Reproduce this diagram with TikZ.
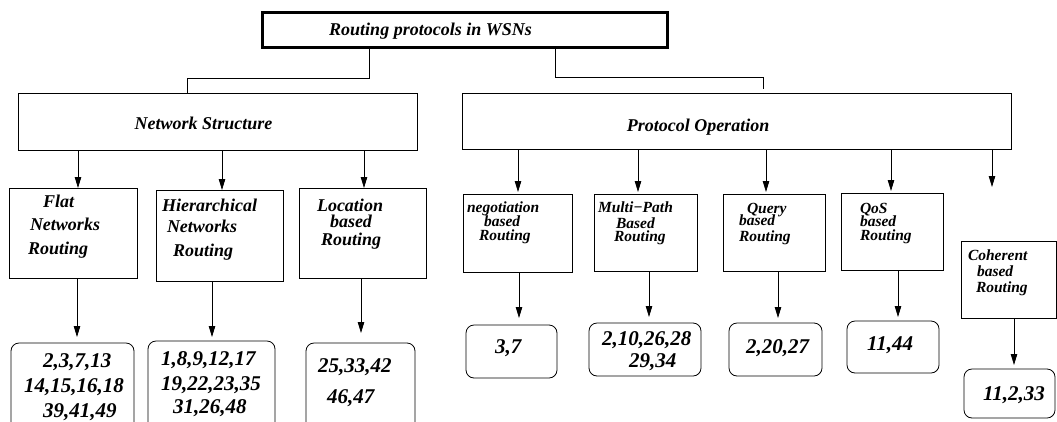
\documentclass[tikz,border=0pt]{standalone}
\usepackage{fontspec}
\setmainfont{Liberation Serif}
\usetikzlibrary{arrows.meta}
\newcommand{\myfbig}{\bfseries\itshape\fontsize{18}{20}\selectfont}
\newcommand{\myfmid}{\bfseries\itshape\fontsize{18}{20}\selectfont}
\newcommand{\myfsml}{\bfseries\itshape\fontsize{15.5}{17}\selectfont}
\newcommand{\myfnum}{\bfseries\itshape\fontsize{21}{23}\selectfont}
\tikzset{
  box/.style={draw, line width=0.8pt, inner sep=0pt, outer sep=0pt},
  numbox/.style={box, rounded corners=8pt},
  rootbox/.style={draw, line width=3pt, inner sep=0pt, outer sep=0pt},
  conn/.style={line width=0.8pt},
  arr/.style={line width=0.8pt, -{Triangle[length=11pt,width=6.5pt]}},
  ctext/.style={anchor=base, inner sep=0pt, outer sep=0pt},
  ltext/.style={anchor=base west, inner sep=0pt, outer sep=0pt},
}
\begin{document}
\begin{tikzpicture}[x=1pt,y=-1pt]
\useasboundingbox (0,0) rectangle (1057,421);
\clip (0,0) rectangle (1057,421);

% boxes
\node[rootbox, minimum width=405pt, minimum height=35pt] (root) at (464.5,30) {};
\node[box, minimum width=399pt, minimum height=57pt] (ns) at (217.5,121.5) {};
\node[box, minimum width=549pt, minimum height=56pt] (po) at (736.5,121) {};

\node[box, minimum width=128pt, minimum height=90pt] (flat) at (73,233) {};
\node[box, minimum width=127pt, minimum height=91pt] (hier) at (219.5,235.5) {};
\node[box, minimum width=127pt, minimum height=90pt] (loc) at (362.5,233) {};
\node[box, minimum width=109pt, minimum height=78pt] (neg) at (517.5,233) {};
\node[box, minimum width=103pt, minimum height=77pt] (multi) at (645.5,232.5) {};
\node[box, minimum width=102pt, minimum height=77pt] (query) at (774,232.5) {};
\node[box, minimum width=102pt, minimum height=77pt] (qos) at (892,231.5) {};
\node[box, minimum width=95pt, minimum height=77pt] (coh) at (1008.5,279.5) {};

\node[numbox, minimum width=123pt, minimum height=97pt] (nflat) at (72.5,391.5) {};
\node[numbox, minimum width=127pt, minimum height=99pt] (nhier) at (211.5,390.5) {};
\node[numbox, minimum width=109pt, minimum height=97pt] (nloc) at (360.5,391.5) {};
\node[numbox, minimum width=91pt, minimum height=53pt] (nneg) at (511.5,351.5) {};
\node[numbox, minimum width=112pt, minimum height=53pt] (nmulti) at (645,349.5) {};
\node[numbox, minimum width=93pt, minimum height=53pt] (nquery) at (775.5,349.5) {};
\node[numbox, minimum width=92pt, minimum height=52pt] (nqos) at (893,347) {};
\node[numbox, minimum width=91pt, minimum height=49pt] (ncoh) at (1009.5,393.5) {};

% texts
\node[ctext, font=\myfbig] (ttitle) at (430.5,35.5) {Routing protocols in WSNs};
\node[ctext, font=\myfbig] (tns) at (203.5,129) {Network Structure};
\node[ctext, font=\myfbig] (tpo) at (698,131) {Protocol Operation};

\node[ltext, font=\myfmid] (tflat1) at (43,207) {Flat};
\node[ltext, font=\myfmid] (tflat2) at (30,230) {Networks};
\node[ltext, font=\myfmid] (tflat3) at (28,254) {Routing};
\node[ltext, font=\myfmid] (thier1) at (162,211) {Hierarchical};
\node[ltext, font=\myfmid] (thier2) at (167,232) {Networks};
\node[ltext, font=\myfmid] (thier3) at (173,256) {Routing};
\node[ltext, font=\myfmid] (tloc1) at (317,211) {Location};
\node[ltext, font=\myfmid] (tloc2) at (330,227) {based};
\node[ltext, font=\myfmid] (tloc3) at (321,245) {Routing};

\node[ltext, font=\myfsml] (tneg1) at (467,212) {negotiation};
\node[ltext, font=\myfsml] (tneg2) at (484,226) {based};
\node[ltext, font=\myfsml] (tneg3) at (479,240) {Routing};
\node[ltext, font=\myfsml] (tmul1) at (598,212) {Multi−Path};
\node[ltext, font=\myfsml] (tmul2) at (616,228) {Based};
\node[ltext, font=\myfsml] (tmul3) at (614,241) {Routing};
\node[ltext, font=\myfsml] (tqry1) at (747,213) {Query};
\node[ltext, font=\myfsml] (tqry2) at (739,225) {based};
\node[ltext, font=\myfsml] (tqry3) at (739,241) {Routing};
\node[ltext, font=\myfsml] (tqos1) at (860,213) {QoS};
\node[ltext, font=\myfsml] (tqos2) at (860,226) {based};
\node[ltext, font=\myfsml] (tqos3) at (860,240) {Routing};
\node[ltext, font=\myfsml] (tcoh1) at (968,260) {Coherent};
\node[ltext, font=\myfsml] (tcoh2) at (977,276) {based};
\node[ltext, font=\myfsml] (tcoh3) at (976,292) {Routing};

\node[ltext, font=\myfnum] (nf1) at (43,367) {2,3,7,13};
\node[ltext, font=\myfnum] (nf2) at (24,392) {14,15,16,18};
\node[ltext, font=\myfnum] (nf3) at (43,417) {39,41,49};
\node[ltext, font=\myfnum] (nh1) at (161,365) {1,8,9,12,17};
\node[ltext, font=\myfnum] (nh2) at (161,390) {19,22,23,35};
\node[ltext, font=\myfnum] (nh3) at (173,413) {31,26,48};
\node[ltext, font=\myfnum] (nl1) at (318,372) {25,33,42};
\node[ltext, font=\myfnum] (nl2) at (327,403) {46,47};
\node[ltext, font=\myfnum] (nn1) at (495,353) {3,7};
\node[ltext, font=\myfnum] (nm1) at (602,345) {2,10,26,28};
\node[ltext, font=\myfnum] (nm2) at (629,367) {29,34};
\node[ltext, font=\myfnum] (nq1) at (746,353) {2,20,27};
\node[ltext, font=\myfnum] (no1) at (867,350) {11,44};
\node[ltext, font=\myfnum] (nc1) at (983,400) {11,2,33};

% connectors from root
\coordinate (ja) at (369,78);
\coordinate (jb) at (187,78);
\coordinate (jc) at (555,77);
\coordinate (jd) at (763,77);
\draw[conn] (root.south -| ja) -- (ja) -- (jb) -- (ns.north -| jb);
\draw[conn, shorten >=4pt] (root.south -| jc) -- (jc) -- (jd) -- (po.north -| jd);

% arrows from Network Structure
\coordinate (a1) at (78,0);
\coordinate (a2) at (222,0);
\coordinate (a3) at (364,0);
\draw[arr] (ns.south -| a1) -- (flat.north -| a1);
\draw[arr] (ns.south -| a2) -- (hier.north -| a2);
\draw[arr] (ns.south -| a3) -- (loc.north -| a3);

% arrows from Protocol Operation
\coordinate (b1) at (518,0);
\coordinate (b2) at (638,0);
\coordinate (b3) at (766,0);
\coordinate (b4) at (891,0);
\coordinate (cohend) at (992,187);
\draw[arr, shorten >=2pt] (po.south -| b1) -- (neg.north -| b1);
\draw[arr, shorten >=2pt] (po.south -| b2) -- (multi.north -| b2);
\draw[arr, shorten >=2pt] (po.south -| b3) -- (query.north -| b3);
\draw[arr, shorten >=2pt] (po.south -| b4) -- (qos.north -| b4);
\draw[arr] (po.south -| cohend) -- (cohend);

% arrows down to reference boxes
\coordinate (d1) at (77,0);
\coordinate (d2) at (212,0);
\coordinate (d3) at (361,0);
\coordinate (d4) at (519,0);
\coordinate (d5) at (649,0);
\coordinate (d6) at (778,0);
\coordinate (d7) at (898,0);
\coordinate (d8) at (1014,0);
\draw[arr, shorten >=6pt] (flat.south -| d1) -- (nflat.north -| d1);
\draw[arr, shorten >=4pt] (hier.south -| d2) -- (nhier.north -| d2);
\draw[arr, shorten >=10pt] (loc.south -| d3) -- (nloc.north -| d3);
\draw[arr, shorten >=7pt] (neg.south -| d4) -- (nneg.north -| d4);
\draw[arr, shorten >=6pt] (multi.south -| d5) -- (nmulti.north -| d5);
\draw[arr, shorten >=5pt] (query.south -| d6) -- (nquery.north -| d6);
\draw[arr, shorten >=4pt] (qos.south -| d7) -- (nqos.north -| d7);
\draw[arr, shorten >=4pt] (coh.south -| d8) -- (ncoh.north -| d8);
\end{tikzpicture}
\end{document}
